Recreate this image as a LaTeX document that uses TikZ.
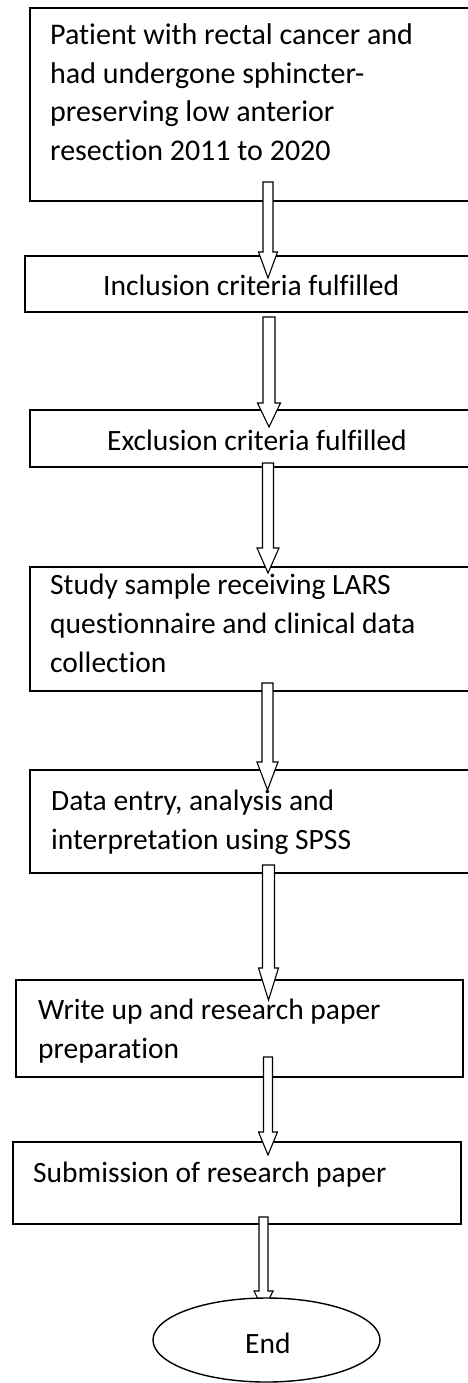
\documentclass[tikz,border=0pt]{standalone}
\usepackage{fontspec}
\setmainfont{Carlito}[Ligatures=NoCommon]
\usetikzlibrary{calc,shapes.geometric}
\tikzset{
  box/.style={draw, line width=1.4pt, rectangle, inner sep=0pt, fill=white},
  endshape/.style={draw, line width=1.4pt, ellipse, inner sep=0pt, fill=white},
  txt/.style={anchor=base west, inner sep=0pt, font=\fontsize{29.5}{39}\selectfont},
  arr/.style={draw, line width=1.1pt, fill=white, line join=miter},
}
% #1 start coordinate, #2 tip coordinate, #3 half shaft, #4 half head, #5 head length
\newcommand\blockarrow[5]{%
  \draw[arr] ($(#1)+(-#3,0)$) -- ($(#2)+(-#3,#5)$) -- ($(#2)+(-#4,#5)$) -- (#2)
    -- ($(#2)+(#4,#5)$) -- ($(#2)+(#3,#5)$) -- ($(#1)+(#3,0)$) -- cycle;}
\newcommand\linesbox[2]{\parbox[t]{#1}{\raggedright #2}}
\begin{document}
\begin{tikzpicture}[x=1pt,y=1pt]
\useasboundingbox (0,0) rectangle (468,-1383);
\clip (0,0) rectangle (468,-1383);
\fill[white] (0,0) rectangle (468,-1383);

% boxes
\node[box, minimum width=440pt, minimum height=193pt] (b1) at (250,-104.5) {};
\node[box, minimum width=445pt, minimum height=56pt]  (b2) at (247.5,-284) {};
\node[box, minimum width=440pt, minimum height=57pt]  (b3) at (250,-438.5) {};
\node[box, minimum width=440pt, minimum height=124pt] (b4) at (250,-629) {};
\node[box, minimum width=440pt, minimum height=103pt] (b5) at (250,-821.5) {};
\node[box, minimum width=447pt, minimum height=97pt]  (b6) at (239.5,-1028.5) {};
\node[box, minimum width=448pt, minimum height=82pt]  (b7) at (237,-1183) {};

% texts
\node[txt, font=\fontsize{30}{38.5}\selectfont] (t1) at (50,-45) {\linesbox{410pt}{Patient with rectal cancer and\\had undergone sphincter-\\preserving low anterior\\resection 2011 to 2020}};
\node[txt] (t2) at (103,-295) {Inclusion criteria fulfilled};
\node[txt] (t3) at (107,-450) {Exclusion criteria fulfilled};
\node[txt] (t4) at (50,-594) {\linesbox{410pt}{Study sample receiving LARS\\questionnaire and clinical data\\collection}};
\node[txt] (t5) at (51,-810) {\linesbox{410pt}{Data entry, analysis and\\interpretation using SPSS}};
\node[txt] (t6) at (38,-1019) {\linesbox{410pt}{Write up and research paper\\preparation}};
\node[txt] (t7) at (33,-1182) {Submission of research paper};

% arrows
\coordinate (a1s) at (268,-182);  \coordinate (a1e) at (268,-278);
\coordinate (a2s) at (269,-317);  \coordinate (a2e) at (269,-427);
\coordinate (a3s) at (268,-463);  \coordinate (a3e) at (268,-573);
\coordinate (a4s) at (267.5,-683); \coordinate (a4e) at (267.5,-790);
\coordinate (a5s) at (268.5,-865); \coordinate (a5e) at (268.5,-1000);
\coordinate (a6s) at (268,-1057); \coordinate (a6e) at (268,-1155);
\coordinate (a7s) at (263.5,-1217); \coordinate (a7e) at (263.5,-1310);
\blockarrow{a1s}{a1e}{5}{9.5}{26}
\blockarrow{a2s}{a2e}{6}{11.5}{24}
\blockarrow{a3s}{a3e}{5.5}{11}{25}
\blockarrow{a4s}{a4e}{5.5}{10.5}{28}
\blockarrow{a5s}{a5e}{6}{10}{32}
\blockarrow{a6s}{a6e}{4.5}{9.5}{23}
\blockarrow{a7s}{a7e}{4.5}{9.5}{19}

% end ellipse
\node[endshape, minimum width=227pt, minimum height=84pt] (e) at (266.5,-1340) {};
\node[txt] (te) at (245,-1353) {End};
\end{tikzpicture}
\end{document}
